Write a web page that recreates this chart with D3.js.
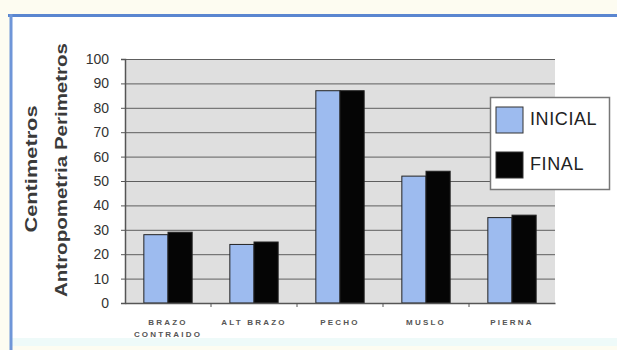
<!DOCTYPE html>
<html>
<head>
<meta charset="utf-8">
<script src="https://cdn.jsdelivr.net/npm/d3@7"></script>
<style>
  html, body { margin: 0; padding: 0; background: #fdfcf3; }
  svg { display: block; }
</style>
</head>
<body>
<svg id="chart" width="617" height="350"></svg>
<script>
// Anthropometric perimeters, initial vs final measurement (cm)
const categories = ["BRAZO|CONTRAIDO", "ALT BRAZO", "PECHO", "MUSLO", "PIERNA"];
const inicial = [28, 24, 87, 52, 35];
const final = [29, 25, 87, 54, 36];
const seriesNames = ["INICIAL", "FINAL"];
const yTicks = [0, 10, 20, 30, 40, 50, 60, 70, 80, 90, 100];

const colors = { INICIAL: "#9dbbef", FINAL: "#050505" };
const font = "Arial, 'Liberation Sans', sans-serif";
const svg = d3.select("#chart");

// page frame
svg.append("rect").attr("x", 0).attr("y", 0).attr("width", 617).attr("height", 350).attr("fill", "#fdfcf1");
svg.append("rect").attr("x", 11).attr("y", 16).attr("width", 606).attr("height", 322).attr("fill", "#ffffff");
svg.append("rect").attr("x", 11).attr("y", 338).attr("width", 606).attr("height", 8).attr("fill", "#eefaf9");
svg.append("line").attr("x1", 8).attr("x2", 617).attr("y1", 15.5).attr("y2", 15.5)
  .attr("stroke", "#5a86d0").attr("stroke-width", 3);
svg.append("line").attr("x1", 11).attr("x2", 11).attr("y1", 14).attr("y2", 350)
  .attr("stroke", "#6f96d8").attr("stroke-width", 3);

const plot = { left: 125, right: 555, top: 59, bottom: 303 };

const x = d3.scaleBand().domain(categories).range([plot.left, plot.right]).paddingInner(0).paddingOuter(0);
const xs = d3.scaleBand().domain(seriesNames).range([0, x.bandwidth()]).paddingInner(0).paddingOuter(0.78);
const y = d3.scaleLinear().domain([0, 100]).range([plot.bottom, plot.top]);

// plot background
svg.append("rect").attr("x", plot.left).attr("y", plot.top)
  .attr("width", plot.right - plot.left).attr("height", plot.bottom - plot.top)
  .attr("fill", "#dfdfdf");

// horizontal gridlines
svg.append("g").selectAll("line").data(yTicks.filter(d => d > 0)).join("line")
  .attr("x1", plot.left).attr("x2", plot.right)
  .attr("y1", d => y(d) + 0.5).attr("y2", d => y(d) + 0.5)
  .attr("stroke", "#5e5e5e").attr("stroke-width", 1);

// bars
const groups = svg.append("g").selectAll("g").data(categories).join("g")
  .attr("transform", d => `translate(${x(d)},0)`);
groups.selectAll("rect").data((d, i) => [
  { s: "INICIAL", v: inicial[i] }, { s: "FINAL", v: final[i] }
]).join("rect")
  .attr("x", d => xs(d.s)).attr("width", xs.bandwidth())
  .attr("y", d => y(d.v)).attr("height", d => y(0) - y(d.v))
  .attr("fill", d => colors[d.s])
  .attr("stroke", "#222").attr("stroke-width", 1);

// y axis
const yAxis = svg.append("g").attr("transform", `translate(${plot.left},0)`)
  .call(d3.axisLeft(y).tickValues(yTicks).tickSize(4).tickPadding(12));
yAxis.select(".domain").attr("stroke", "#555").attr("stroke-width", 1.5);
yAxis.selectAll(".tick line").attr("stroke", "#555");
yAxis.selectAll("text").attr("font-family", font)
  .attr("font-size", 14).attr("fill", "#333");

// x axis
const xAxis = svg.append("g").attr("transform", `translate(0,${plot.bottom})`)
  .call(d3.axisBottom(x).tickSize(0).tickFormat(""));
xAxis.select(".domain").attr("stroke", "#555").attr("stroke-width", 1.5);
svg.append("g").selectAll("line").data(categories.slice(1)).join("line")
  .attr("x1", d => x(d)).attr("x2", d => x(d))
  .attr("y1", plot.bottom).attr("y2", plot.bottom + 4)
  .attr("stroke", "#555");

// category labels
const xl = svg.append("g").selectAll("text").data(categories).join("text")
  .attr("x", d => x(d) + x.bandwidth() / 2)
  .attr("y", plot.bottom + 22)
  .attr("text-anchor", "middle")
  .attr("font-family", font).attr("font-weight", "bold")
  .attr("font-size", 8).attr("letter-spacing", 2.2).attr("fill", "#555");
xl.each(function(d) {
  const parts = d.split("|");
  d3.select(this).selectAll("tspan").data(parts).join("tspan")
    .attr("x", x(d) + x.bandwidth() / 2)
    .attr("dy", (p, i) => i === 0 ? 0 : 12)
    .text(p => p);
});

// y axis titles
svg.append("text").attr("transform", "translate(37,169) rotate(-90)")
  .attr("text-anchor", "middle").attr("font-family", font)
  .attr("font-size", 17).attr("font-weight", "bold").attr("fill", "#3a3a3a")
  .attr("textLength", 127).attr("lengthAdjust", "spacingAndGlyphs")
  .text("Centimetros");
svg.append("text").attr("transform", "translate(67,170) rotate(-90)")
  .attr("text-anchor", "middle").attr("font-family", font)
  .attr("font-size", 17).attr("font-weight", "bold").attr("fill", "#3a3a3a")
  .attr("textLength", 254).attr("lengthAdjust", "spacingAndGlyphs")
  .text("Antropometria Perimetros");

// legend
const legend = svg.append("g").attr("transform", "translate(490,97)");
legend.append("rect").attr("x", 0.5).attr("y", 0.5).attr("width", 119).attr("height", 92)
  .attr("fill", "#ffffff").attr("stroke", "#777").attr("stroke-width", 1.5);
const li = legend.selectAll("g").data(seriesNames).join("g")
  .attr("transform", (d, i) => `translate(6,${10 + i * 45})`);
li.append("rect").attr("width", 27).attr("height", 26)
  .attr("fill", d => colors[d]).attr("stroke", "#333");
li.append("text").attr("x", 34).attr("y", 18)
  .attr("font-family", font).attr("font-size", 18).attr("letter-spacing", 0.6).attr("fill", "#222")
  .text(d => d);
</script>
</body>
</html>
